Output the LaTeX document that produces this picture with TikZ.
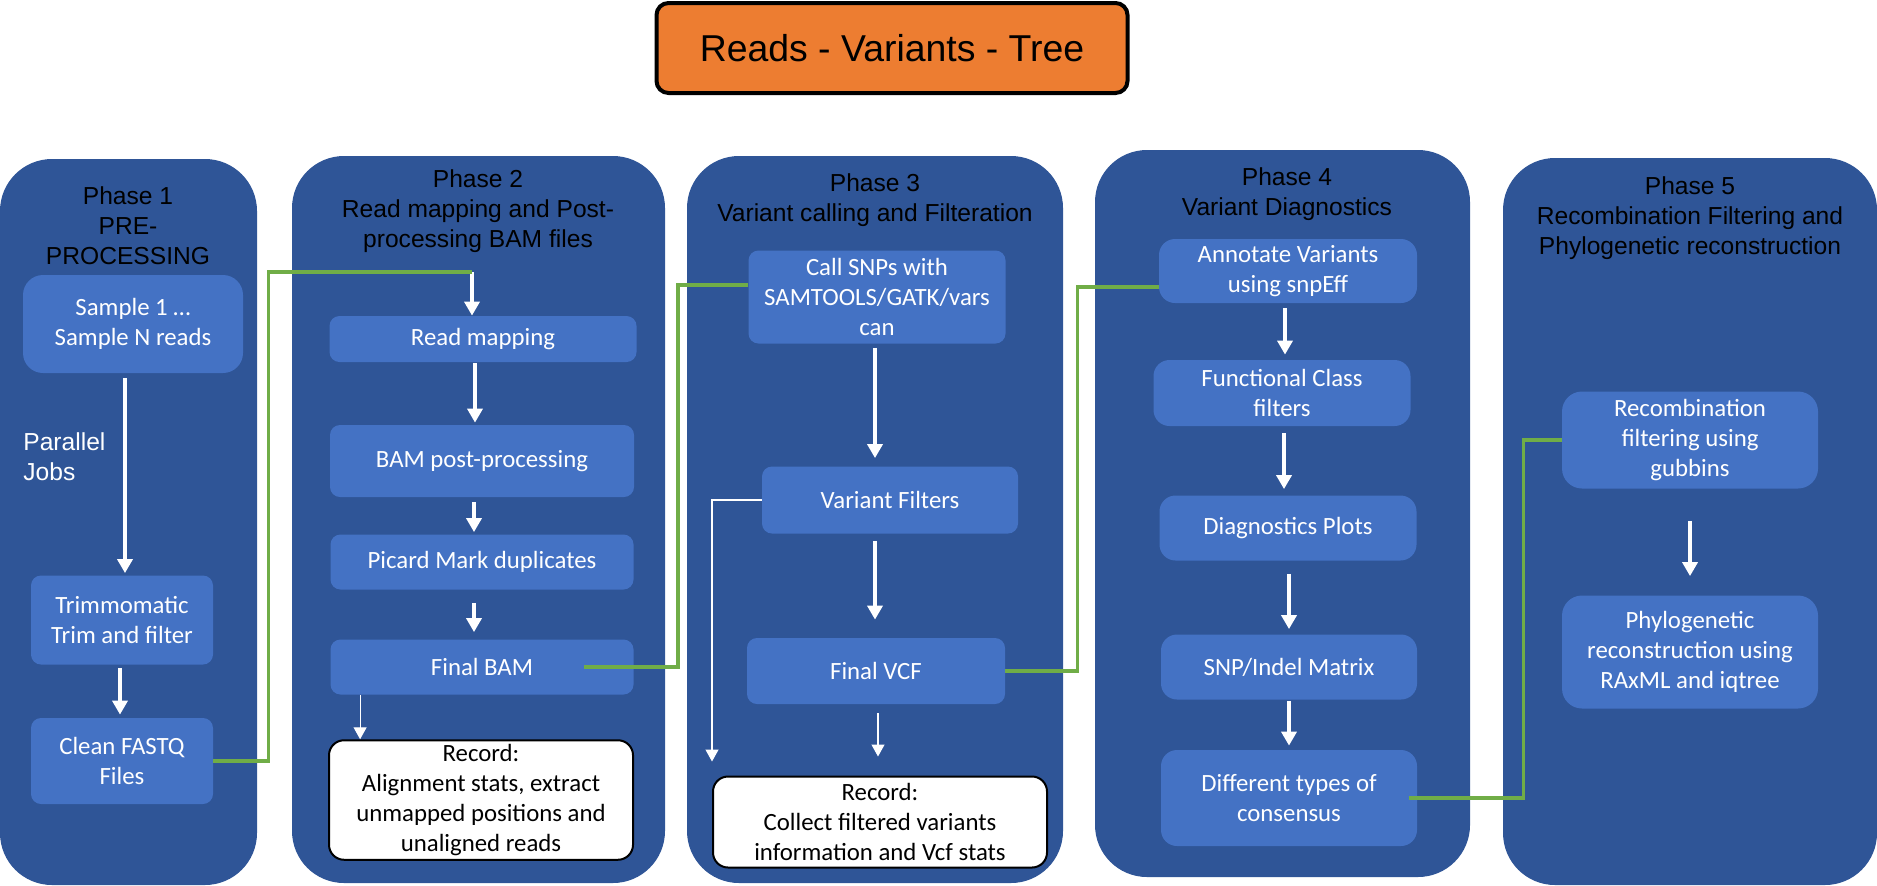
\documentclass[tikz,border=0pt]{standalone}
\usepackage{fontspec}
\setmainfont{Liberation Sans}
\newfontfamily\boxfont{Carlito}
\usetikzlibrary{arrows.meta}

\definecolor{panelblue}{HTML}{2F5597}
\definecolor{boxblue}{HTML}{4472C4}
\definecolor{linkgreen}{HTML}{70AD47}
\definecolor{headorange}{HTML}{ED7D31}

\begin{document}
\begin{tikzpicture}[x=0.5pt, y=-0.5pt, >={Triangle[width=7.5pt,length=7pt]}]

  \tikzstyle{panel}=[fill=panelblue, rounded corners=26pt, inner sep=0pt]
  \tikzstyle{phasetitle}=[align=center, text=black, inner sep=0pt, font=\fontsize{12.3}{15}\selectfont]
  \tikzstyle{stepbox}=[fill=boxblue, rounded corners=5pt, align=center, text=white, inner sep=2pt, font=\boxfont\fontsize{12.4}{15}\selectfont]
  \tikzstyle{recordbox}=[fill=white, draw=black, line width=1pt, rounded corners=7.5pt, align=center, text=black, inner sep=2pt, font=\boxfont\fontsize{12.4}{15}\selectfont]
  \tikzstyle{flow}=[->, white, line width=2pt]
  \tikzstyle{thinflow}=[-{Triangle[width=6.5pt,length=6pt]}, white, line width=0.6pt]
  \tikzstyle{greenlink}=[linkgreen, line width=1.9pt]

  \useasboundingbox (0,0) rectangle (1877,885);

  % title
  \node[fill=headorange, draw=black, line width=2pt, rounded corners=6pt, minimum width=235.5pt, minimum height=45pt, font=\fontsize{18.7}{22}\selectfont] (head) at (892,48) {Reads - Variants - Tree};

  % phase panels
  \node[panel, minimum width=128.5pt, minimum height=363pt]   (ph1) at (128.5,522) {};
  \node[panel, minimum width=186.5pt, minimum height=363.5pt] (ph2) at (478.5,519.5) {};
  \node[panel, minimum width=188pt, minimum height=363.5pt]   (ph3) at (875,519.5) {};
  \node[panel, minimum width=187.5pt, minimum height=363.5pt] (ph4) at (1282.5,513.5) {};
  \node[panel, minimum width=187pt, minimum height=363.5pt]   (ph5) at (1690,521.5) {};

  \node[phasetitle] (tit1) at (128,226)  {Phase 1\\PRE-\\PROCESSING};
  \node[phasetitle] (tit2) at (478,211)  {Phase 2\\Read mapping and Post-\\processing BAM files};
  \node[phasetitle] (tit3) at (875,200)  {Phase 3\\Variant calling and Filteration};
  \node[phasetitle] (tit4) at (1287,194) {Phase 4\\Variant Diagnostics};
  \node[phasetitle] (tit5) at (1690,218) {Phase 5\\Recombination Filtering and\\Phylogenetic reconstruction};

  % phase 1
  \node[stepbox, rounded corners=10pt, minimum width=110pt, minimum height=49pt] (samp) at (133,324) {Sample 1 …\\Sample N reads};
  \node[stepbox, minimum width=91pt, minimum height=44.5pt] (trim) at (122,620) {Trimmomatic\\Trim and filter};
  \node[stepbox, minimum width=91pt, minimum height=43pt]   (clean) at (122,761) {Clean FASTQ\\Files};
  \node[anchor=west, align=left, text=white, inner sep=0pt, font=\fontsize{12.3}{15}\selectfont] (par) at (23,457) {Parallel\\Jobs};

  % phase 2
  \node[stepbox, minimum width=153.5pt, minimum height=23pt] (rmap) at (483,339) {Read mapping};
  \node[stepbox, minimum width=152pt, minimum height=36pt]   (bpp)  at (482,461) {BAM post-processing};
  \node[stepbox, minimum width=151.5pt, minimum height=27.5pt] (pic) at (482,562) {Picard Mark duplicates};
  \node[stepbox, minimum width=151.5pt, minimum height=27.5pt] (fbam) at (482,667) {Final BAM};
  \node[recordbox, minimum width=152pt, minimum height=59.5pt] (rec1) at (481,800) {Record:\\Alignment stats, extract\\unmapped positions and\\unaligned reads};
  \coordinate (g1) at (472,272);

  % phase 3
  \node[stepbox, minimum width=128.5pt, minimum height=46.5pt] (call) at (877,297) {Call SNPs with\\SAMTOOLS/GATK/vars\\can};
  \node[stepbox, minimum width=128pt, minimum height=33.5pt]   (vfil) at (890,500) {Variant Filters};
  \node[stepbox, minimum width=129pt, minimum height=33pt]     (fvcf) at (876,671) {Final VCF};
  \node[recordbox, minimum width=167pt, minimum height=45.5pt] (rec2) at (880,822) {Record:\\Collect filtered variants\\information and Vcf stats};

  % phase 4
  \node[stepbox, rounded corners=8pt, minimum width=129pt, minimum height=32pt]   (anno) at (1288,271) {Annotate Variants\\using snpEff};
  \node[stepbox, rounded corners=8pt, minimum width=128.5pt, minimum height=33pt] (func) at (1282,393) {Functional Class\\filters};
  \node[stepbox, rounded corners=8pt, minimum width=128.5pt, minimum height=32.5pt] (diag) at (1288,528) {Diagnostics Plots};
  \node[stepbox, rounded corners=8pt, minimum width=128pt, minimum height=32.5pt]   (snp)  at (1289,667) {SNP/Indel Matrix};
  \node[stepbox, rounded corners=8pt, minimum width=128pt, minimum height=48pt]     (diff) at (1289,798) {Different types of\\consensus};

  % phase 5
  \node[stepbox, rounded corners=10pt, minimum width=128pt, minimum height=48.5pt] (recb) at (1690,440) {Recombination\\filtering using\\gubbins};
  \node[stepbox, rounded corners=10pt, minimum width=128pt, minimum height=56.5pt] (phyl) at (1690,652) {Phylogenetic\\reconstruction using\\RAxML and iqtree};

  % flow inside phases
  \draw[flow, shorten <=2.5pt, shorten >=1pt] ([xshift=-4pt]samp.south) -- ([xshift=-4pt]samp.south |- trim.north);
  \draw[flow, shorten <=1.5pt, shorten >=1.5pt] ([xshift=-1pt]trim.south) -- ([xshift=-1pt]trim.south |- clean.north);
  \draw[flow] (g1) -- (g1 |- rmap.north);
  \draw[flow, shorten <=0.5pt, shorten >=1pt] ([xshift=-4pt]rmap.south) -- ([xshift=-4pt]rmap.south |- bpp.north);
  \draw[flow, shorten <=2.5pt, shorten >=1pt] ([xshift=-4pt]bpp.south) -- ([xshift=-4pt]bpp.south |- pic.north);
  \draw[flow, shorten <=6.5pt, shorten >=3.5pt] ([xshift=-4pt]pic.south) -- ([xshift=-4pt]pic.south |- fbam.north);
  \draw[thinflow] ([xshift=15pt]fbam.south west) -- ([xshift=15pt]fbam.south west |- rec1.north);

  \draw[flow, shorten <=2pt, shorten >=4pt] ([xshift=-1pt]call.south) -- ([xshift=-1pt]call.south |- vfil.north);
  \draw[flow, shorten <=3.5pt, shorten >=9pt] ([xshift=-7.5pt]vfil.south) -- ([xshift=-7.5pt]vfil.south |- fvcf.north);
  \draw[thinflow, shorten >=7pt] (vfil.west) -| (rec2.north west);
  \draw[thinflow, shorten <=4.5pt, shorten >=9.5pt] ([xshift=1pt]fvcf.south) -- ([xshift=1pt]fvcf.south |- rec2.north);

  \draw[flow, shorten <=2.5pt, shorten >=2.5pt] ([xshift=-1.5pt]anno.south) -- ([xshift=-1.5pt]anno.south |- func.north);
  \draw[flow, shorten <=3.5pt, shorten >=3pt] ([xshift=1pt]func.south) -- ([xshift=1pt]func.south |- diag.north);
  \draw[flow, shorten <=6.5pt, shorten >=2.5pt] ([xshift=0.5pt]diag.south) -- ([xshift=0.5pt]diag.south |- snp.north);
  \draw[flow, shorten <=0.5pt, shorten >=2pt] (snp.south) -- (snp.south |- diff.north);

  \draw[flow, shorten <=16pt, shorten >=9.5pt] (recb.south) -- (recb.south |- phyl.north);

  % links between phases
  \draw[greenlink] (clean.east) -- ++(55,0) |- (g1);
  \draw[greenlink] ([xshift=-25pt]fbam.east) -- ++(94,0) |- ([yshift=6pt]call.west);
  \draw[greenlink] (fvcf.east) -- ++(72,0) |- ([yshift=-8pt]anno.west);
  \draw[greenlink] ([xshift=-4pt]diff.east) -- ++(114,0) |- (recb.west);

\end{tikzpicture}
\end{document}
